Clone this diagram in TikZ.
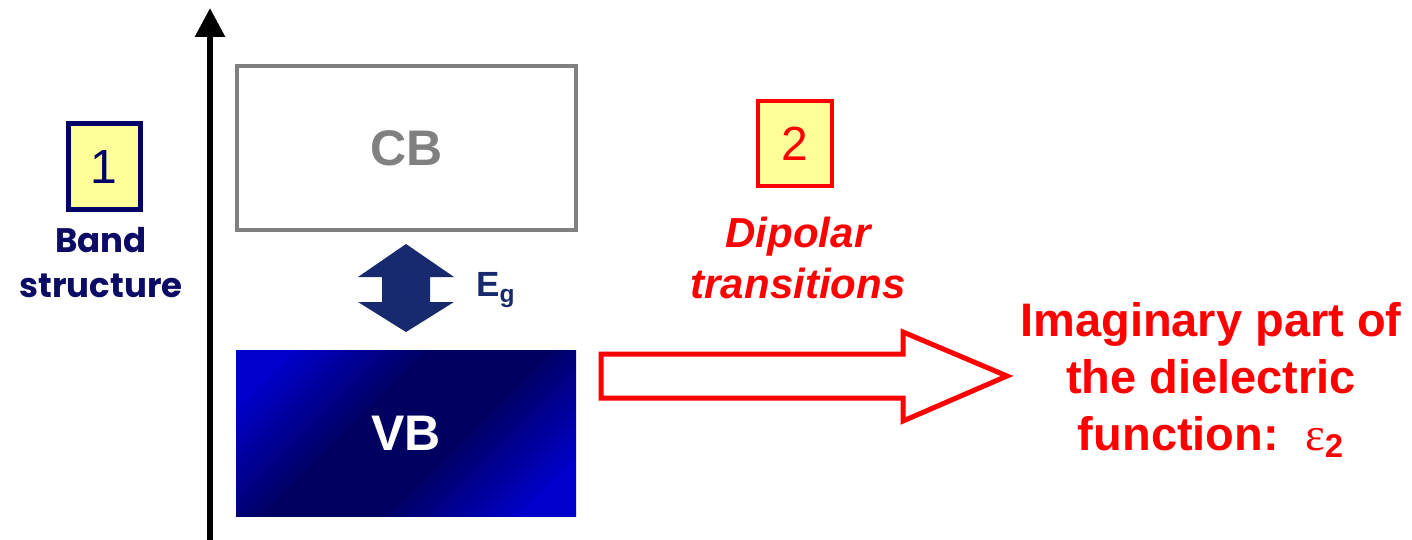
\documentclass[tikz,border=0pt]{standalone}
\usepackage{fontspec}
\setmainfont{Liberation Sans}
\newfontfamily\comicfont{Poppins}
\newfontfamily\symfont{Liberation Serif}
\usetikzlibrary{arrows.meta}
\definecolor{navy}{RGB}{0,0,102}
\definecolor{navytext}{RGB}{12,12,102}
\definecolor{egblue}{RGB}{23,42,110}
\definecolor{vbbright}{RGB}{0,0,204}
\definecolor{vbdark}{RGB}{0,0,96}
\definecolor{cbgray}{RGB}{128,128,128}
\definecolor{boxyellow}{RGB}{255,255,153}
\pgfdeclareverticalshading{vbshade}{100bp}{color(0bp)=(vbbright); color(22bp)=(vbbright); color(42bp)=(vbdark); color(58bp)=(vbdark); color(78bp)=(vbbright); color(100bp)=(vbbright)}
\tikzset{
  numbox/.style={fill=boxyellow, minimum width=36pt, minimum height=43pt, inner sep=0pt, font=\fontsize{24}{28}\selectfont},
  bandlabel/.style={font=\bfseries\fontsize{25}{30}\selectfont},
}
\begin{document}
\begin{tikzpicture}[x=0.5pt,y=-0.5pt]
\useasboundingbox[fill=white] (0,0) rectangle (1412,540);
% energy axis
\coordinate (axb) at (210,540);
\coordinate (axt) at (210,8);
\draw[line width=3pt, -{Triangle[width=14.5pt,length=14.5pt]}] (axb) -- (axt);
% CB
\node[draw=cbgray, line width=2pt, minimum width=169.5pt, minimum height=82pt, text=cbgray, bandlabel] (cb) at (406.5,148) {CB};
% VB
\node[shading=vbshade, shading angle=45,
      minimum width=170pt, minimum height=83pt, text=white, bandlabel] (vb) at (406,433) {VB};
% band gap arrow
\fill[egblue] (406,244) -- (454,277) -- (430,277) -- (430,302) -- (454,302) -- (406,332)
  -- (358,302) -- (382,302) -- (382,277) -- (358,277) -- cycle;
\node[text=egblue, font=\bfseries\fontsize{17.5}{20}\selectfont] (eg) at (496,290) {E\textsubscript{g}};
% box 1
\node[numbox, draw=navy, line width=2.5pt, text=navy] (n1) at (104,166.5) {1};
\node[text=navytext, align=center, font=\comicfont\bfseries\fontsize{17}{22.5}\selectfont] (band) at (101,263) {Band\\structure};
% box 2
\node[numbox, draw=red, line width=2.25pt, text=red, minimum width=37pt, minimum height=42.5pt] (n2) at (795,143.5) {2};
\node[text=red, align=center, font=\bfseries\itshape\fontsize{21}{25.5}\selectfont] (dip) at (798,258) {Dipolar\\transitions};
% hollow arrow
\draw[red, line width=2.5pt, fill=white, line join=miter] (601,354) -- (903,354) -- (903,332) -- (1007,376)
  -- (903,421) -- (903,398) -- (601,398) -- cycle;
% result
\node[text=red, align=center, font=\bfseries\fontsize{23.5}{28.5}\selectfont] (eps) at (1211,380)
  {Imaginary part of\\the dielectric\\function:\ \ {\symfont\mdseries ε}\textsubscript{2}};
\end{tikzpicture}
\end{document}
